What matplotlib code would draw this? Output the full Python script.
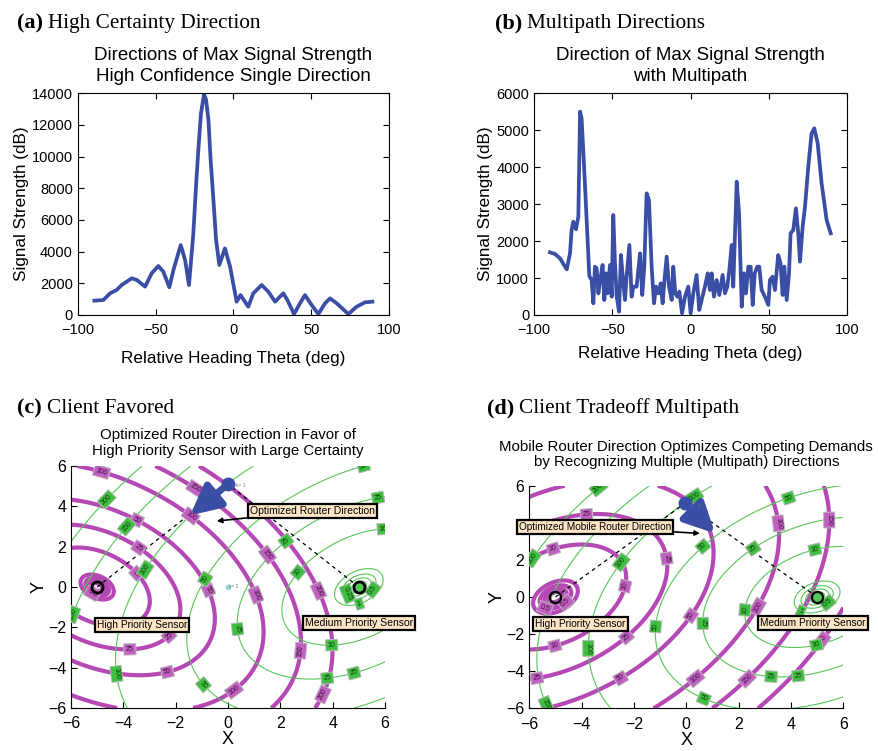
import numpy as np
import matplotlib
matplotlib.use('Agg')
import matplotlib.pyplot as plt

# ---- panel (a): single strong direction ----
theta_a = [-89.3, -83.5, -79.2, -75, -71.7, -65.3, -62, -56.7, -52.5, -48.2, -45, -41.1,
           -38.5, -33.8, -31, -28.5, -25.7, -24, -22.5, -20.8, -18.8, -17.5, -16, -14.6,
           -12.8, -11.1, -9, -5.4, -2.1,
           2.1, 4.6, 9.6, 12.8, 18.2, 22.5, 26.8, 32.1, 34.7, 39, 42.8, 46, 50.3, 54.6,
           58.9, 62.1, 66.4, 73.9, 79.2, 84.6, 89.3]
sig_a = [905, 947, 1368, 1580, 1895, 2316, 2210, 1790, 2630, 3095, 2740, 1750,
         2840, 4420, 3470, 1895, 5160, 8105, 10420, 12740, 13940, 13580, 12320, 9790,
         7260, 4740, 3160, 4210, 3050,
         842, 1260, 526, 1370, 1895, 1470, 842, 1370, 947, 60, 737, 1260, 630, 60,
         737, 1050, 737, 60, 526, 800, 842]

# ---- panel (b): multipath ----
theta_b = [-89.8, -86.6, -83.4, -80.2, -79.1, -77, -76, -74.9, -73.2, -71.7, -70.6, -69.6,
           -67.4, -64.7, -63.2, -62.1, -61.1, -60, -58.9, -57.9, -56.2, -55.1, -54, -53,
           -51.5, -50.4, -49.4, -48.3, -47.2, -45.7, -44.5, -43, -41.9, -40.9, -39.1,
           -37.7, -36.6, -34.5, -32.3, -30.9, -29.6, -28.1, -26.6, -24.9, -23.4, -22.1,
           -20.6, -19.1, -17.9, -16.8, -15.3, -13.8, -12.1, -11.1, -9.8, -8.5, -7.2,
           -5.5, -3.6, -1.5, 0, 1.7, 3.8, 5.5, 7, 9.1, 10.9, 12.3, 13.4, 14.9, 16.6,
           18.3, 20.4, 21.9, 23.4, 24.7, 26.2, 27.2, 29.4, 30.9, 32.6, 34, 35.3, 36.8,
           38.3, 39.6, 40.9, 42.6, 43.8, 45.3, 47.4, 49.6, 50.6, 52.3, 53.8, 55.9, 57.4,
           58.7, 59.8, 61.3, 62.8, 63.8, 65.5, 67.2, 68.7, 69.8, 71.5, 73, 75.1, 77.2,
           78.9, 81.1, 83.6, 86.8, 89.4]
sig_b = [1696, 1651, 1534, 1308, 1236, 1669, 2300, 2526, 2319, 2660, 5504, 5323,
         3474, 1056, 947, 316, 1308, 1263, 586, 902, 1353, 406, 1128, 586,
         1353, 496, 2707, 1398, 496, 90, 1624, 857, 406, 1038, 1895,
         496, 767, 767, 1669, 541, 1308, 3293, 3113, 1308, 316, 767,
         586, 857, 316, 902, 1579, 767, 406, 1308, 586, 496, 632,
         45, 496, 767, 45, 586, 1083, 135, 406, 767, 1128, 677, 1128, 496, 947,
         541, 1083, 586, 767, 1218, 1895, 767, 3609, 2752, 226, 1128, 586, 1308,
         1308, 271, 1128, 1308, 1308, 677, 496, 271, 947, 1038, 677, 1624, 1398,
         541, 1308, 406, 1128, 2211, 2300, 2887, 2211, 1443, 2391, 2932, 4015, 4917,
         5053, 4647, 3564, 2571, 2211]

# ---- panels (c), (d): sensor / router geometry ----
high_sensor = (-5.0, 0.0)
med_sensor = (5.0, 0.0)
levels = [0.1, 0.25, 0.5, 1, 10, 25, 50, 100, 150, 200]
# quadratic-form coefficients (a, b, c) of each uncertainty field
high_q_c = (2.84, 1.05, 3.0)
med_q_c = (1.37, -0.55, 1.42)
high_q_d = (1.59, -0.565, 1.45)
med_q_d = (1.455, -0.47, 1.5)
router_c = (0.0, 5.1)
tip_c = (-1.45, 3.55)
router_d = (-0.05, 5.05)
tip_d = (1.1, 3.43)
k2_point = (0.0, 0.0)

# where the contour labels sit
lab_high_c = [(-4.83, 5.71), (-1.26, 4.88), (-3.49, 3.32), (-3.43, 1.91), (-3.49, 0.68),
              (-1.45, 3.48), (-0.88, -0.23), (0.9, -0.48), (1.41, 1.5), (3.26, -0.31),
              (2.43, -3.12), (3.26, -5.1), (0.08, -4.85), (-2.34, -4.11), (-3.75, -3.04),
              (-2.28, -2.38), (-5.2, -0.35)]
lab_med_c = [(5.36, 5.87), (5.75, 4.31), (5.94, 2.74), (2.24, 2.24), (2.69, 0.71),
             (3.96, -2.74), (3.77, -4.27), (4.79, -4.16), (0.65, -2.05), (-0.69, 0.26),
             (-0.5, -4.36), (-2.94, 0.68), (-3.55, -4.19), (-3.71, 2.82), (-5.43, -1.6),
             (-4.47, 4.14), (4.6, -0.3), (5.6, -0.2), (5.0, -0.75)]
lab_high_d = [(-5.08, 2.57), (-3.81, 4.37), (-2.34, 0.59), (-0.75, 2.08), (-5.02, -2.64),
              (-5.72, -4.29), (-2.24, -2.23), (-2.47, -4.47), (0.29, -1.11), (3.52, 3.97),
              (0.42, -4.5), (2.47, -4.62), (2.88, -0.65), (5.55, 4.15), (5.43, -2.59),
              (-4.6, -0.3), (-5.4, -0.6)]
lab_med_d = [(3.9, 5.37), (2.56, 2.62), (4.92, 2.53), (2.24, -0.7), (4.98, -2.64),
             (3.24, -4.33), (4.28, -4.29), (0.65, -1.42), (0.65, 2.71), (-1.13, -1.6),
             (0.65, -5.55), (-2.43, 1.81), (-3.68, -2.77), (0.31, 5.41), (-5.36, -5.82),
             (-5.78, 1.99), (-3.3, 5.8), (5.4, -0.3), (4.4, -0.7)]

blue = '#3a4ea6'
mag = '#b548b5'
grn = '#55c855'

W, H = 879, 751
fig = plt.figure(figsize=(W / 100, H / 100), dpi=100)
plt.rcParams['font.family'] = ['Liberation Sans', 'DejaVu Sans']


def px_axes(l, t, r, b):
    return fig.add_axes([l / W, 1 - b / H, (r - l) / W, (b - t) / H])


def heading(x, y, tag, txt):
    rend = fig.canvas.get_renderer()
    t = fig.text(x / W, 1 - y / H, tag, fontsize=16, weight='bold',
                 family=['Liberation Serif', 'DejaVu Serif'], va='baseline')
    bb = t.get_window_extent(rend)
    fig.text((bb.x1 + 5) / W, 1 - y / H, txt, fontsize=15.3,
             family=['Liberation Serif', 'DejaVu Serif'], va='baseline')


def style_line_axes(ax):
    ax.tick_params(direction='in', top=True, right=True, labelsize=10.5, length=4)
    ax.tick_params(axis='x', pad=6)
    for s in ax.spines.values():
        s.set_linewidth(0.8)


# (a)
ax1 = px_axes(77.7, 93.3, 389, 315)
ax1.plot(theta_a, sig_a, color=blue, lw=2.7)
ax1.set_xlim(-100, 100)
ax1.set_ylim(0, 14000)
ax1.set_xticks(np.arange(-100, 101, 50))
ax1.set_yticks(np.arange(0, 14001, 2000))
style_line_axes(ax1)
ax1.set_xlabel('Relative Heading Theta (deg)', fontsize=12.3, labelpad=10)
ax1.set_ylabel('Signal Strength (dB)', fontsize=12.3, labelpad=2)
ax1.set_title('Directions of Max Signal Strength\nHigh Confidence Single Direction',
              fontsize=13.5, pad=9, linespacing=1.3)

# (b)
ax2 = px_axes(534, 93.3, 847.3, 315)
ax2.plot(theta_b, sig_b, color=blue, lw=2.7)
ax2.set_xlim(-100, 100)
ax2.set_ylim(0, 6000)
ax2.set_xticks(np.arange(-100, 101, 50))
ax2.set_yticks(np.arange(0, 6001, 1000))
style_line_axes(ax2)
ax2.set_xlabel('Relative Heading Theta (deg)', fontsize=12.3, labelpad=6)
ax2.set_ylabel('Signal Strength (dB)', fontsize=12.3, labelpad=2)
ax2.set_title('Direction of Max Signal Strength\nwith Multipath',
              fontsize=13.5, pad=9, linespacing=1.3)

gx = np.linspace(-6, 6, 400)
GX, GY = np.meshgrid(gx, gx)


def field(center, q):
    dx = GX - center[0]
    dy = GY - center[1]
    return q[0] * dx ** 2 + 2 * q[1] * dx * dy + q[2] * dy ** 2


def draw_field(ax, center, q, color, lw, face, tcol, spots):
    cs = ax.contour(GX, GY, field(center, q), levels=levels, colors=color, linewidths=lw)
    labs = ax.clabel(cs, fmt='%g', fontsize=5.0, inline=True, inline_spacing=2,
                     colors=tcol, manual=spots)
    for t in labs:
        t.set_bbox(dict(boxstyle='square,pad=0.3', fc=face, ec='#b8b8b8', lw=0.7))
        t.set_zorder(4)
    return cs


def map_axes(ax, title, fs, pad):
    ax.set_xlim(-6, 6)
    ax.set_ylim(-6, 6)
    ax.set_xticks(np.arange(-6, 7, 2))
    ax.set_yticks(np.arange(-6, 7, 2))
    ax.spines['top'].set_visible(False)
    ax.spines['right'].set_visible(False)
    ax.tick_params(direction='in', labelsize=11.5, length=4)
    ax.tick_params(axis='x', pad=6)
    ax.set_xlabel('X', fontsize=13, labelpad=0)
    ax.set_ylabel('Y', fontsize=13, labelpad=0)
    ax.set_title(title, fontsize=fs, pad=pad, linespacing=1.15)


box = dict(boxstyle='square,pad=0.2', fc='#fde5c6', ec='k', lw=1.6)

# (c)
ax3 = px_axes(71, 466, 385, 708)
draw_field(ax3, high_sensor, high_q_c, mag, 3.0, '#c060c0', '#3a103a', lab_high_c)
draw_field(ax3, med_sensor, med_q_c, grn, 0.8, '#3fbf3f', '#0a3a0a', lab_med_c)
for s in (high_sensor, med_sensor):
    ax3.plot([s[0], router_c[0]], [s[1], router_c[1]], color='k', ls=(0, (3, 3)), lw=0.9, zorder=3)
ax3.plot(*high_sensor, 'o', ms=8, mfc='none', mec='k', mew=2, zorder=5)
ax3.plot(*med_sensor, 'o', ms=8, mfc=grn, mec='k', mew=2, zorder=5)
ax3.plot(*k2_point, 'o', ms=3, color='#8ad8e0', zorder=5)
ax3.text(k2_point[0] + 0.05, k2_point[1], 'k= 2', fontsize=3.5, color='#777777', va='center', zorder=5)
ax3.annotate('', xy=tip_c, xytext=router_c,
             arrowprops=dict(arrowstyle='-|>', color=blue, lw=5, mutation_scale=45,
                             shrinkA=0, shrinkB=0), zorder=6)
ax3.plot(*router_c, 'o', ms=9, color=blue, zorder=6)
ax3.text(router_c[0] + 0.3, router_c[1] - 0.05, 'k= 1', fontsize=3.5, color='#777777', va='center', zorder=6)
ax3.annotate('Optimized Router Direction', xy=(-0.43, 3.27), xytext=(3.23, 3.77),
             ha='center', va='center', fontsize=7.5, bbox=box, zorder=7,
             arrowprops=dict(arrowstyle='-|>', color='k', lw=1.2, shrinkA=0, shrinkB=0))
ax3.text(-3.29, -1.87, 'High Priority Sensor', ha='center', va='center', fontsize=7.3,
         bbox=box, zorder=7)
ax3.text(5.0, -1.8, 'Medium Priority Sensor', ha='center', va='center', fontsize=7.5,
         bbox=box, zorder=7)
map_axes(ax3, 'Optimized Router Direction in Favor of\nHigh Priority Sensor with Large Certainty',
         10.8, 8)

# (d)
ax4 = px_axes(529.3, 485.7, 843.3, 708.3)
draw_field(ax4, high_sensor, high_q_d, mag, 3.0, '#c060c0', '#3a103a', lab_high_d)
draw_field(ax4, med_sensor, med_q_d, grn, 0.8, '#3fbf3f', '#0a3a0a', lab_med_d)
for s in (high_sensor, med_sensor):
    ax4.plot([s[0], router_d[0]], [s[1], router_d[1]], color='k', ls=(0, (3, 3)), lw=0.9, zorder=3)
ax4.plot(*high_sensor, 'o', ms=8, mfc='none', mec='k', mew=1.6, zorder=5)
ax4.plot(*med_sensor, 'o', ms=8, mfc=grn, mec='k', mew=1.6, zorder=5)
ax4.annotate('', xy=tip_d, xytext=router_d,
             arrowprops=dict(arrowstyle='-|>', color=blue, lw=5, mutation_scale=45,
                             shrinkA=0, shrinkB=0), zorder=6)
ax4.plot(*router_d, 'o', ms=9, color=blue, zorder=6)
ax4.text(router_d[0] + 0.5, router_d[1] - 0.15, '1', fontsize=3.5, color='#777777', va='center', zorder=6)
ax4.annotate('Optimized Mobile Router Direction', xy=(0.52, 3.43), xytext=(-3.5, 3.75),
             ha='center', va='center', fontsize=7.2, bbox=box, zorder=7,
             arrowprops=dict(arrowstyle='-|>', color='k', lw=1.2, shrinkA=0, shrinkB=0))
ax4.text(-4.05, -1.44, 'High Priority Sensor', ha='center', va='center', fontsize=7.3,
         bbox=box, zorder=7)
ax4.text(4.84, -1.4, 'Medium Priority Sensor', ha='center', va='center', fontsize=7.3,
         bbox=box, zorder=7)
map_axes(ax4, 'Mobile Router Direction Optimizes Competing Demands\nby Recognizing Multiple (Multipath) Directions',
         10.8, 14)
# the "4" tick sits under the direction box in the original
ax4.set_yticklabels(['' if v == 4 else f'{v:d}'.replace('-', '\u2212')
                     for v in np.arange(-6, 7, 2)])

heading(17, 28, '(a)', 'High Certainty Direction')
heading(495, 28, '(b)', 'Multipath Directions')
heading(17, 413, '(c)', 'Client Favored')
heading(487, 413, '(d)', 'Client Tradeoff Multipath')

fig.savefig('out.png', dpi=100)
